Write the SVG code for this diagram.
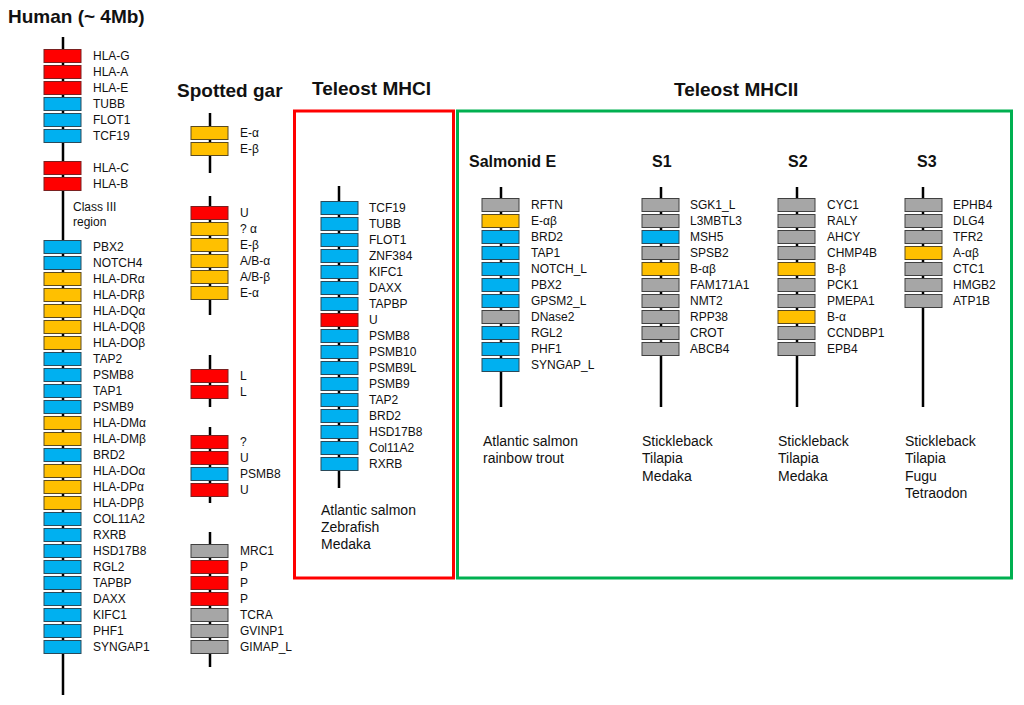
<svg xmlns="http://www.w3.org/2000/svg" width="1024" height="705" viewBox="0 0 1024 705">
<style>
.r{fill:#FF0000;stroke:#7a2020;stroke-width:1}
.b{fill:#00B0F0;stroke:#2a4a5a;stroke-width:1}
.y{fill:#FFC000;stroke:#5a4a20;stroke-width:1}
.g{fill:#A6A6A6;stroke:#404040;stroke-width:1}
text{font-family:"Liberation Sans",Arial,sans-serif;fill:#111}
.t{font-size:12px}
.h{font-size:19px;font-weight:bold}
.s{font-size:16px;font-weight:bold}
.sp{font-size:14px}
.ln{stroke:#000;stroke-width:2.5;fill:none}
</style>
<rect width="1024" height="705" fill="#fff"/>
<g id="frames">
<rect x="294.5" y="111" width="159" height="467" fill="none" stroke="#FF0000" stroke-width="3"/>
<rect x="457.5" y="111" width="554" height="467" fill="none" stroke="#00B050" stroke-width="3"/>
</g>
<g id="titles">
<text class="h" x="8" y="23">Human (~ 4Mb)</text>
<text class="h" x="177" y="97">Spotted gar</text>
<text class="h" x="312" y="95">Teleost MHCI</text>
<text class="h" x="674" y="96">Teleost MHCII</text>
<text class="s" x="469" y="167">Salmonid E</text>
<text class="s" x="652" y="167">S1</text>
<text class="s" x="788" y="167">S2</text>
<text class="s" x="917" y="167">S3</text>
</g>
<g id="connectors">
<line class="ln" x1="63" y1="37" x2="63" y2="695"/>
<line class="ln" x1="210" y1="113" x2="210" y2="173"/>
<line class="ln" x1="210" y1="196" x2="210" y2="315"/>
<line class="ln" x1="210" y1="355" x2="210" y2="407"/>
<line class="ln" x1="210" y1="427" x2="210" y2="503"/>
<line class="ln" x1="210" y1="532" x2="210" y2="667"/>
<line class="ln" x1="339" y1="186" x2="339" y2="488"/>
<line class="ln" x1="501" y1="187" x2="501" y2="407"/>
<line class="ln" x1="661" y1="187" x2="661" y2="407"/>
<line class="ln" x1="797" y1="187" x2="797" y2="407"/>
<line class="ln" x1="923" y1="187" x2="923" y2="407"/>
</g>
<g id="human">
<g id="h-HLA-G"><rect class="r" x="44" y="49.5" width="37" height="13"/><text class="t" x="93" y="60">HLA-G</text></g>
<g id="h-HLA-A"><rect class="r" x="44" y="65.5" width="37" height="13"/><text class="t" x="93" y="76">HLA-A</text></g>
<g id="h-HLA-E"><rect class="r" x="44" y="81.5" width="37" height="13"/><text class="t" x="93" y="92">HLA-E</text></g>
<g id="h-TUBB"><rect class="b" x="44" y="97.5" width="37" height="13"/><text class="t" x="93" y="108">TUBB</text></g>
<g id="h-FLOT1"><rect class="b" x="44" y="113.5" width="37" height="13"/><text class="t" x="93" y="124">FLOT1</text></g>
<g id="h-TCF19"><rect class="b" x="44" y="129.5" width="37" height="13"/><text class="t" x="93" y="140">TCF19</text></g>
<g id="h-HLA-C"><rect class="r" x="44" y="161.5" width="37" height="13"/><text class="t" x="93" y="172">HLA-C</text></g>
<g id="h-HLA-B"><rect class="r" x="44" y="177.5" width="37" height="13"/><text class="t" x="93" y="188">HLA-B</text></g>
<g id="h-class3"><text class="t" x="73" y="211">Class  III</text><text class="t" x="73" y="226">region</text></g>
<g id="h-PBX2"><rect class="b" x="44" y="240.5" width="37" height="13"/><text class="t" x="93" y="251">PBX2</text></g>
<g id="h-NOTCH4"><rect class="b" x="44" y="256.5" width="37" height="13"/><text class="t" x="93" y="267">NOTCH4</text></g>
<g id="h-DRa"><rect class="y" x="44" y="272.5" width="37" height="13"/><text class="t" x="93" y="283">HLA-DRα</text></g>
<g id="h-DRb"><rect class="y" x="44" y="288.5" width="37" height="13"/><text class="t" x="93" y="299">HLA-DRβ</text></g>
<g id="h-DQa"><rect class="y" x="44" y="304.5" width="37" height="13"/><text class="t" x="93" y="315">HLA-DQα</text></g>
<g id="h-DQb"><rect class="y" x="44" y="320.5" width="37" height="13"/><text class="t" x="93" y="331">HLA-DQβ</text></g>
<g id="h-DOb"><rect class="y" x="44" y="336.5" width="37" height="13"/><text class="t" x="93" y="347">HLA-DOβ</text></g>
<g id="h-TAP2"><rect class="b" x="44" y="352.5" width="37" height="13"/><text class="t" x="93" y="363">TAP2</text></g>
<g id="h-PSMB8"><rect class="b" x="44" y="368.5" width="37" height="13"/><text class="t" x="93" y="379">PSMB8</text></g>
<g id="h-TAP1"><rect class="b" x="44" y="384.5" width="37" height="13"/><text class="t" x="93" y="395">TAP1</text></g>
<g id="h-PSMB9"><rect class="b" x="44" y="400.5" width="37" height="13"/><text class="t" x="93" y="411">PSMB9</text></g>
<g id="h-DMa"><rect class="y" x="44" y="416.5" width="37" height="13"/><text class="t" x="93" y="427">HLA-DMα</text></g>
<g id="h-DMb"><rect class="y" x="44" y="432.5" width="37" height="13"/><text class="t" x="93" y="443">HLA-DMβ</text></g>
<g id="h-BRD2"><rect class="b" x="44" y="448.5" width="37" height="13"/><text class="t" x="93" y="459">BRD2</text></g>
<g id="h-DOa"><rect class="y" x="44" y="464.5" width="37" height="13"/><text class="t" x="93" y="475">HLA-DOα</text></g>
<g id="h-DPa"><rect class="y" x="44" y="480.5" width="37" height="13"/><text class="t" x="93" y="491">HLA-DPα</text></g>
<g id="h-DPb"><rect class="y" x="44" y="496.5" width="37" height="13"/><text class="t" x="93" y="507">HLA-DPβ</text></g>
<g id="h-COL11A2"><rect class="b" x="44" y="512.5" width="37" height="13"/><text class="t" x="93" y="523">COL11A2</text></g>
<g id="h-RXRB"><rect class="b" x="44" y="528.5" width="37" height="13"/><text class="t" x="93" y="539">RXRB</text></g>
<g id="h-HSD17B8"><rect class="b" x="44" y="544.5" width="37" height="13"/><text class="t" x="93" y="555">HSD17B8</text></g>
<g id="h-RGL2"><rect class="b" x="44" y="560.5" width="37" height="13"/><text class="t" x="93" y="571">RGL2</text></g>
<g id="h-TAPBP"><rect class="b" x="44" y="576.5" width="37" height="13"/><text class="t" x="93" y="587">TAPBP</text></g>
<g id="h-DAXX"><rect class="b" x="44" y="592.5" width="37" height="13"/><text class="t" x="93" y="603">DAXX</text></g>
<g id="h-KIFC1"><rect class="b" x="44" y="608.5" width="37" height="13"/><text class="t" x="93" y="619">KIFC1</text></g>
<g id="h-PHF1"><rect class="b" x="44" y="624.5" width="37" height="13"/><text class="t" x="93" y="635">PHF1</text></g>
<g id="h-SYNGAP1"><rect class="b" x="44" y="640.5" width="37" height="13"/><text class="t" x="93" y="651">SYNGAP1</text></g>
</g>
<g id="gar">
<g id="g-Ea1"><rect class="y" x="191" y="126.5" width="37" height="13"/><text class="t" x="240" y="137">E-α</text></g>
<g id="g-Eb1"><rect class="y" x="191" y="142.5" width="37" height="13"/><text class="t" x="240" y="153">E-β</text></g>
<g id="g-U1"><rect class="r" x="191" y="206.5" width="37" height="13"/><text class="t" x="240" y="217">U</text></g>
<g id="g-qa"><rect class="y" x="191" y="222.5" width="37" height="13"/><text class="t" x="240" y="233">? α</text></g>
<g id="g-Eb2"><rect class="y" x="191" y="238.5" width="37" height="13"/><text class="t" x="240" y="249">E-β</text></g>
<g id="g-ABa"><rect class="y" x="191" y="254.5" width="37" height="13"/><text class="t" x="240" y="265">A/B-α</text></g>
<g id="g-ABb"><rect class="y" x="191" y="270.5" width="37" height="13"/><text class="t" x="240" y="281">A/B-β</text></g>
<g id="g-Ea2"><rect class="y" x="191" y="286.5" width="37" height="13"/><text class="t" x="240" y="297">E-α</text></g>
<g id="g-L1"><rect class="r" x="191" y="369.5" width="37" height="13"/><text class="t" x="240" y="380">L</text></g>
<g id="g-L2"><rect class="r" x="191" y="385.5" width="37" height="13"/><text class="t" x="240" y="396">L</text></g>
<g id="g-q"><rect class="r" x="191" y="435.5" width="37" height="13"/><text class="t" x="240" y="446">?</text></g>
<g id="g-U2"><rect class="r" x="191" y="451.5" width="37" height="13"/><text class="t" x="240" y="462">U</text></g>
<g id="g-PSMB8"><rect class="b" x="191" y="467.5" width="37" height="13"/><text class="t" x="240" y="478">PSMB8</text></g>
<g id="g-U3"><rect class="r" x="191" y="483.5" width="37" height="13"/><text class="t" x="240" y="494">U</text></g>
<g id="g-MRC1"><rect class="g" x="191" y="544.5" width="37" height="13"/><text class="t" x="240" y="555">MRC1</text></g>
<g id="g-P1"><rect class="r" x="191" y="560.5" width="37" height="13"/><text class="t" x="240" y="571">P</text></g>
<g id="g-P2"><rect class="r" x="191" y="576.5" width="37" height="13"/><text class="t" x="240" y="587">P</text></g>
<g id="g-P3"><rect class="r" x="191" y="592.5" width="37" height="13"/><text class="t" x="240" y="603">P</text></g>
<g id="g-TCRA"><rect class="g" x="191" y="608.5" width="37" height="13"/><text class="t" x="240" y="619">TCRA</text></g>
<g id="g-GVINP1"><rect class="g" x="191" y="624.5" width="37" height="13"/><text class="t" x="240" y="635">GVINP1</text></g>
<g id="g-GIMAP_L"><rect class="g" x="191" y="640.5" width="37" height="13"/><text class="t" x="240" y="651">GIMAP_L</text></g>
</g>
<g id="mhci">
<g id="m-TCF19"><rect class="b" x="321" y="201.5" width="37" height="13"/><text class="t" x="369" y="212">TCF19</text></g>
<g id="m-TUBB"><rect class="b" x="321" y="217.5" width="37" height="13"/><text class="t" x="369" y="228">TUBB</text></g>
<g id="m-FLOT1"><rect class="b" x="321" y="233.5" width="37" height="13"/><text class="t" x="369" y="244">FLOT1</text></g>
<g id="m-ZNF384"><rect class="b" x="321" y="249.5" width="37" height="13"/><text class="t" x="369" y="260">ZNF384</text></g>
<g id="m-KIFC1"><rect class="b" x="321" y="265.5" width="37" height="13"/><text class="t" x="369" y="276">KIFC1</text></g>
<g id="m-DAXX"><rect class="b" x="321" y="281.5" width="37" height="13"/><text class="t" x="369" y="292">DAXX</text></g>
<g id="m-TAPBP"><rect class="b" x="321" y="297.5" width="37" height="13"/><text class="t" x="369" y="308">TAPBP</text></g>
<g id="m-U"><rect class="r" x="321" y="313.5" width="37" height="13"/><text class="t" x="369" y="324">U</text></g>
<g id="m-PSMB8"><rect class="b" x="321" y="329.5" width="37" height="13"/><text class="t" x="369" y="340">PSMB8</text></g>
<g id="m-PSMB10"><rect class="b" x="321" y="345.5" width="37" height="13"/><text class="t" x="369" y="356">PSMB10</text></g>
<g id="m-PSMB9L"><rect class="b" x="321" y="361.5" width="37" height="13"/><text class="t" x="369" y="372">PSMB9L</text></g>
<g id="m-PSMB9"><rect class="b" x="321" y="377.5" width="37" height="13"/><text class="t" x="369" y="388">PSMB9</text></g>
<g id="m-TAP2"><rect class="b" x="321" y="393.5" width="37" height="13"/><text class="t" x="369" y="404">TAP2</text></g>
<g id="m-BRD2"><rect class="b" x="321" y="409.5" width="37" height="13"/><text class="t" x="369" y="420">BRD2</text></g>
<g id="m-HSD17B8"><rect class="b" x="321" y="425.5" width="37" height="13"/><text class="t" x="369" y="436">HSD17B8</text></g>
<g id="m-Col11A2"><rect class="b" x="321" y="441.5" width="37" height="13"/><text class="t" x="369" y="452">Col11A2</text></g>
<g id="m-RXRB"><rect class="b" x="321" y="457.5" width="37" height="13"/><text class="t" x="369" y="468">RXRB</text></g>
<g id="m-species"><text class="sp" x="321" y="515">Atlantic salmon</text><text class="sp" x="321" y="532">Zebrafish</text><text class="sp" x="321" y="549">Medaka</text></g>
</g>
<g id="salmonid">
<g id="se-RFTN"><rect class="g" x="482" y="198.5" width="37" height="13"/><text class="t" x="531" y="209">RFTN</text></g>
<g id="se-Eab"><rect class="y" x="482" y="214.5" width="37" height="13"/><text class="t" x="531" y="225">E-αβ</text></g>
<g id="se-BRD2"><rect class="b" x="482" y="230.5" width="37" height="13"/><text class="t" x="531" y="241">BRD2</text></g>
<g id="se-TAP1"><rect class="b" x="482" y="246.5" width="37" height="13"/><text class="t" x="531" y="257">TAP1</text></g>
<g id="se-NOTCH_L"><rect class="b" x="482" y="262.5" width="37" height="13"/><text class="t" x="531" y="273">NOTCH_L</text></g>
<g id="se-PBX2"><rect class="b" x="482" y="278.5" width="37" height="13"/><text class="t" x="531" y="289">PBX2</text></g>
<g id="se-GPSM2_L"><rect class="b" x="482" y="294.5" width="37" height="13"/><text class="t" x="531" y="305">GPSM2_L</text></g>
<g id="se-DNase2"><rect class="g" x="482" y="310.5" width="37" height="13"/><text class="t" x="531" y="321">DNase2</text></g>
<g id="se-RGL2"><rect class="b" x="482" y="326.5" width="37" height="13"/><text class="t" x="531" y="337">RGL2</text></g>
<g id="se-PHF1"><rect class="b" x="482" y="342.5" width="37" height="13"/><text class="t" x="531" y="353">PHF1</text></g>
<g id="se-SYNGAP_L"><rect class="b" x="482" y="358.5" width="37" height="13"/><text class="t" x="531" y="369">SYNGAP_L</text></g>
<g id="se-species"><text class="sp" x="483" y="446">Atlantic salmon</text><text class="sp" x="483" y="463">rainbow trout</text></g>
</g>
<g id="s1">
<g id="s1-SGK1_L"><rect class="g" x="642" y="198.5" width="37" height="13"/><text class="t" x="690" y="209">SGK1_L</text></g>
<g id="s1-L3MBTL3"><rect class="g" x="642" y="214.5" width="37" height="13"/><text class="t" x="690" y="225">L3MBTL3</text></g>
<g id="s1-MSH5"><rect class="b" x="642" y="230.5" width="37" height="13"/><text class="t" x="690" y="241">MSH5</text></g>
<g id="s1-SPSB2"><rect class="g" x="642" y="246.5" width="37" height="13"/><text class="t" x="690" y="257">SPSB2</text></g>
<g id="s1-Bab"><rect class="y" x="642" y="262.5" width="37" height="13"/><text class="t" x="690" y="273">B-αβ</text></g>
<g id="s1-FAM171A1"><rect class="g" x="642" y="278.5" width="37" height="13"/><text class="t" x="690" y="289">FAM171A1</text></g>
<g id="s1-NMT2"><rect class="g" x="642" y="294.5" width="37" height="13"/><text class="t" x="690" y="305">NMT2</text></g>
<g id="s1-RPP38"><rect class="g" x="642" y="310.5" width="37" height="13"/><text class="t" x="690" y="321">RPP38</text></g>
<g id="s1-CROT"><rect class="g" x="642" y="326.5" width="37" height="13"/><text class="t" x="690" y="337">CROT</text></g>
<g id="s1-ABCB4"><rect class="g" x="642" y="342.5" width="37" height="13"/><text class="t" x="690" y="353">ABCB4</text></g>
<g id="s1-species"><text class="sp" x="642" y="446">Stickleback</text><text class="sp" x="642" y="463">Tilapia</text><text class="sp" x="642" y="481">Medaka</text></g>
</g>
<g id="s2">
<g id="s2-CYC1"><rect class="g" x="778" y="198.5" width="37" height="13"/><text class="t" x="827" y="209">CYC1</text></g>
<g id="s2-RALY"><rect class="g" x="778" y="214.5" width="37" height="13"/><text class="t" x="827" y="225">RALY</text></g>
<g id="s2-AHCY"><rect class="g" x="778" y="230.5" width="37" height="13"/><text class="t" x="827" y="241">AHCY</text></g>
<g id="s2-CHMP4B"><rect class="g" x="778" y="246.5" width="37" height="13"/><text class="t" x="827" y="257">CHMP4B</text></g>
<g id="s2-Bb"><rect class="y" x="778" y="262.5" width="37" height="13"/><text class="t" x="827" y="273">B-β</text></g>
<g id="s2-PCK1"><rect class="g" x="778" y="278.5" width="37" height="13"/><text class="t" x="827" y="289">PCK1</text></g>
<g id="s2-PMEPA1"><rect class="g" x="778" y="294.5" width="37" height="13"/><text class="t" x="827" y="305">PMEPA1</text></g>
<g id="s2-Ba"><rect class="y" x="778" y="310.5" width="37" height="13"/><text class="t" x="827" y="321">B-α</text></g>
<g id="s2-CCNDBP1"><rect class="g" x="778" y="326.5" width="37" height="13"/><text class="t" x="827" y="337">CCNDBP1</text></g>
<g id="s2-EPB4"><rect class="g" x="778" y="342.5" width="37" height="13"/><text class="t" x="827" y="353">EPB4</text></g>
<g id="s2-species"><text class="sp" x="778" y="446">Stickleback</text><text class="sp" x="778" y="463">Tilapia</text><text class="sp" x="778" y="481">Medaka</text></g>
</g>
<g id="s3">
<g id="s3-EPHB4"><rect class="g" x="905" y="198.5" width="37" height="13"/><text class="t" x="953" y="209">EPHB4</text></g>
<g id="s3-DLG4"><rect class="g" x="905" y="214.5" width="37" height="13"/><text class="t" x="953" y="225">DLG4</text></g>
<g id="s3-TFR2"><rect class="g" x="905" y="230.5" width="37" height="13"/><text class="t" x="953" y="241">TFR2</text></g>
<g id="s3-Aab"><rect class="y" x="905" y="246.5" width="37" height="13"/><text class="t" x="953" y="257">A-αβ</text></g>
<g id="s3-CTC1"><rect class="g" x="905" y="262.5" width="37" height="13"/><text class="t" x="953" y="273">CTC1</text></g>
<g id="s3-HMGB2"><rect class="g" x="905" y="278.5" width="37" height="13"/><text class="t" x="953" y="289">HMGB2</text></g>
<g id="s3-ATP1B"><rect class="g" x="905" y="294.5" width="37" height="13"/><text class="t" x="953" y="305">ATP1B</text></g>
<g id="s3-species"><text class="sp" x="905" y="446">Stickleback</text><text class="sp" x="905" y="463">Tilapia</text><text class="sp" x="905" y="481">Fugu</text><text class="sp" x="905" y="498">Tetraodon</text></g>
</g>
</svg>
